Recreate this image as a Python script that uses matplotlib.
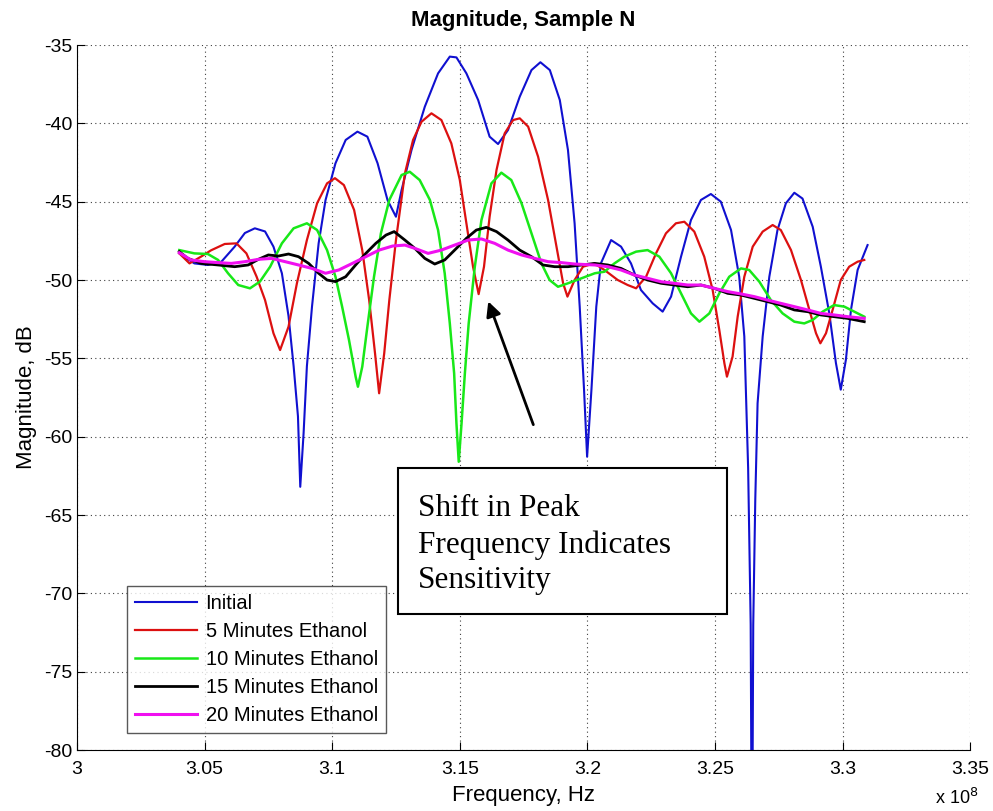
import matplotlib
matplotlib.use("Agg")
import matplotlib.pyplot as plt
import matplotlib.patches as patches
import numpy as np

plt.rcParams['font.family'] = ['Liberation Sans Narrow', 'Liberation Sans', 'DejaVu Sans']
plt.rcParams['axes.unicode_minus'] = False

# frequency in units of 1e8 Hz, magnitude in dB
blue_f = [3.0401, 3.046, 3.0513, 3.0566, 3.0618, 3.0658, 3.0697, 3.0737, 3.077, 3.0803,
          3.0829, 3.0849, 3.0866, 3.0875, 3.0888, 3.0901, 3.0921, 3.0947, 3.0974, 3.1013,
          3.1053, 3.1099, 3.1138, 3.1178, 3.1217, 3.125, 3.1272, 3.1311, 3.1363, 3.1415,
          3.1461, 3.1487, 3.1526, 3.1572, 3.1617, 3.165, 3.1689, 3.1735, 3.1781, 3.1816,
          3.1853, 3.1892, 3.1924, 3.195, 3.197, 3.1987, 3.1999, 3.2016, 3.2035, 3.2053,
          3.2093, 3.2132, 3.2171, 3.221, 3.2256, 3.2295, 3.2328, 3.2367, 3.2406, 3.2445,
          3.2484, 3.2523, 3.2563, 3.2595, 3.2615, 3.263, 3.264, 3.2645, 3.265, 3.2658,
          3.2667, 3.2687, 3.2713, 3.2745, 3.2778, 3.2811, 3.2843, 3.2883, 3.2915, 3.2948,
          3.2974, 3.2993, 3.3013, 3.3033, 3.3059, 3.3098]
blue_db = [-48.3, -48.94, -49.04, -48.83, -47.87, -47.0, -46.7, -46.9, -47.87, -49.57,
           -52.3, -55.5, -58.7, -63.2, -59.8, -55.5, -51.7, -47.66, -44.9, -42.55,
           -41.06, -40.53, -40.85, -42.55, -44.9, -45.96, -44.26, -41.7, -38.94, -36.81,
           -35.74, -35.79, -36.81, -38.51, -40.85, -41.32, -40.43, -38.3, -36.6, -36.1,
           -36.6, -38.51, -41.7, -46.38, -51.7, -57.0, -61.28, -57.0, -51.7, -48.94,
           -47.45, -47.87, -48.94, -50.64, -51.49, -52.02, -51.06, -48.51, -46.17, -44.89,
           -44.51, -45.0, -46.81, -49.79, -53.6, -62.0, -72.0, -90.0, -72.0, -64.0,
           -57.87, -53.6, -49.79, -46.81, -45.1, -44.43, -44.8, -46.6, -49.15, -52.13,
           -55.3, -57.0, -55.1, -51.9, -49.36, -47.77]

red_f = [3.0401, 3.0441, 3.0487, 3.0526, 3.0579, 3.0625, 3.0664, 3.0704, 3.0737, 3.077,
         3.0796, 3.0829, 3.0862, 3.0901, 3.0941, 3.098, 3.1011, 3.1046, 3.1086, 3.1118,
         3.1145, 3.1168, 3.1184, 3.1204, 3.1224, 3.125, 3.1285, 3.1317, 3.135, 3.1389,
         3.1428, 3.1467, 3.15, 3.1526, 3.1552, 3.1574, 3.1595, 3.1617, 3.1644, 3.1676,
         3.1709, 3.1735, 3.1768, 3.1807, 3.1846, 3.1879, 3.1905, 3.1922, 3.195, 3.1983,
         3.2027, 3.2067, 3.2119, 3.2158, 3.2191, 3.223, 3.2269, 3.2308, 3.2347, 3.238,
         3.2419, 3.2458, 3.2491, 3.2517, 3.2537, 3.2547, 3.2569, 3.2589, 3.2615, 3.2648,
         3.2687, 3.2726, 3.2758, 3.2798, 3.2837, 3.287, 3.2896, 3.2913, 3.2935, 3.2961,
         3.2993, 3.3026, 3.3059, 3.3085]
red_db = [-48.3, -48.94, -48.5, -48.1, -47.7, -47.66, -48.3, -49.79, -51.28, -53.4,
          -54.47, -52.98, -50.2, -47.45, -45.1, -43.83, -43.5, -43.94, -45.53, -48.1,
          -51.28, -54.68, -57.23, -54.68, -51.28, -47.45, -43.2, -41.06, -39.9, -39.36,
          -39.79, -41.28, -43.6, -46.38, -49.15, -50.9, -49.15, -45.96, -42.98, -40.64,
          -39.79, -39.68, -40.21, -42.13, -44.89, -47.87, -50.21, -51.06, -50.0, -49.15,
          -48.94, -49.36, -50.0, -50.32, -50.53, -49.79, -48.3, -47.02, -46.38, -46.28,
          -46.91, -48.51, -50.64, -53.19, -55.32, -56.17, -54.89, -52.34, -49.79, -47.87,
          -46.91, -46.49, -46.81, -48.09, -50.0, -51.91, -53.4, -54.04, -53.4, -51.91,
          -50.0, -49.15, -48.83, -48.72]

green_f = [3.0401, 3.046, 3.0513, 3.0553, 3.0592, 3.0632, 3.0678, 3.0717, 3.0757, 3.0803,
           3.0849, 3.0901, 3.0941, 3.098, 3.1013, 3.1039, 3.1066, 3.1092, 3.1101, 3.1118,
           3.1138, 3.1164, 3.1191, 3.1224, 3.1272, 3.1304, 3.1343, 3.1383, 3.1415, 3.1441,
           3.1461, 3.1478, 3.1487, 3.1496, 3.1507, 3.152, 3.1535, 3.1559, 3.1585, 3.1624,
           3.1663, 3.1702, 3.1742, 3.1781, 3.182, 3.1852, 3.1885, 3.1924, 3.1977, 3.2029,
           3.2067, 3.2106, 3.2145, 3.2191, 3.2236, 3.2282, 3.2328, 3.2367, 3.2406, 3.2439,
           3.2478, 3.2517, 3.2556, 3.2602, 3.2634, 3.2674, 3.2719, 3.2765, 3.2811, 3.285,
           3.2883, 3.2922, 3.2967, 3.3007, 3.3046, 3.3085]
green_db = [-48.09, -48.3, -48.34, -48.72, -49.57, -50.32, -50.53, -50.1, -49.15, -47.66,
            -46.7, -46.38, -46.81, -48.09, -49.79, -51.7, -53.83, -56.17, -56.81, -55.53,
            -52.98, -49.79, -47.02, -44.89, -43.3, -43.09, -43.62, -44.89, -46.81, -49.57,
            -52.77, -55.96, -59.15, -61.6, -59.15, -55.96, -52.77, -49.15, -46.17, -43.83,
            -43.15, -43.62, -45.1, -47.02, -48.94, -50.0, -50.43, -50.21, -49.89, -49.57,
            -49.47, -48.94, -48.51, -48.19, -48.09, -48.51, -49.57, -50.85, -52.13, -52.66,
            -52.13, -50.85, -49.79, -49.26, -49.36, -50.11, -51.28, -52.13, -52.66, -52.77,
            -52.55, -52.02, -51.6, -51.7, -52.02, -52.34]

black_f = [3.0401, 3.0434, 3.0487, 3.0553, 3.0618, 3.0671, 3.0711, 3.075, 3.0789, 3.0829,
           3.0868, 3.0908, 3.0947, 3.098, 3.1013, 3.1053, 3.1092, 3.1132, 3.1171, 3.1211,
           3.1243, 3.1285, 3.1324, 3.1363, 3.1402, 3.1441, 3.148, 3.1526, 3.1565, 3.1604,
           3.1644, 3.1689, 3.1735, 3.1781, 3.1826, 3.1872, 3.1924, 3.1977, 3.2029, 3.208,
           3.2132, 3.2184, 3.2236, 3.2289, 3.2341, 3.2393, 3.2445, 3.2497, 3.255, 3.2602,
           3.2654, 3.2706, 3.2758, 3.2811, 3.2863, 3.2915, 3.2967, 3.302, 3.3085]
black_db = [-48.19, -48.62, -48.94, -49.04, -49.15, -49.04, -48.68, -48.4, -48.47, -48.34,
            -48.51, -48.94, -49.57, -50.0, -50.1, -49.79, -49.04, -48.3, -47.66, -47.13,
            -46.91, -47.45, -47.98, -48.62, -48.98, -48.72, -48.09, -47.34, -46.81, -46.64,
            -46.91, -47.45, -48.09, -48.51, -49.04, -49.15, -49.15, -49.04, -48.94, -49.04,
            -49.26, -49.68, -50.0, -50.21, -50.32, -50.43, -50.32, -50.53, -50.85, -50.96,
            -51.17, -51.38, -51.6, -51.91, -52.02, -52.23, -52.34, -52.45, -52.66]

mag_f = [3.0401, 3.0447, 3.05, 3.0553, 3.0605, 3.0658, 3.0711, 3.0763, 3.0816, 3.0868,
         3.0921, 3.0974, 3.1026, 3.1079, 3.1132, 3.1184, 3.1237, 3.1285, 3.1324, 3.1376,
         3.1428, 3.148, 3.1533, 3.1585, 3.1637, 3.1689, 3.1742, 3.1794, 3.1846, 3.1898,
         3.195, 3.2029, 3.208, 3.2132, 3.2184, 3.2236, 3.2289, 3.2341, 3.2393, 3.2445,
         3.2497, 3.255, 3.2602, 3.2654, 3.2706, 3.2758, 3.2811, 3.2863, 3.2915, 3.2967,
         3.302, 3.3085]
mag_db = [-48.26, -48.72, -48.83, -48.89, -48.94, -48.83, -48.68, -48.62, -48.83, -49.04,
          -49.26, -49.57, -49.36, -48.94, -48.51, -48.09, -47.83, -47.77, -47.98, -48.3,
          -48.09, -47.77, -47.45, -47.38, -47.66, -48.09, -48.4, -48.62, -48.83, -48.89,
          -48.98, -49.04, -49.15, -49.36, -49.68, -49.89, -50.11, -50.21, -50.32, -50.32,
          -50.53, -50.74, -50.89, -51.06, -51.28, -51.49, -51.7, -51.91, -52.13, -52.23,
          -52.34, -52.45]

labels = ["Initial", "5 Minutes Ethanol", "10 Minutes Ethanol",
          "15 Minutes Ethanol", "20 Minutes Ethanol"]
colors = ["#1010d0", "#dc1010", "#18e818", "#000000", "#f010f0"]

xticks = [3, 3.05, 3.1, 3.15, 3.2, 3.25, 3.3, 3.35]
yticks = [-80, -75, -70, -65, -60, -55, -50, -45, -40, -35]

fig = plt.figure(figsize=(9.93, 8.11), dpi=100)
ax = fig.add_axes([0.0775, 0.0752, 0.8995, 0.8693])

series = [(blue_f, blue_db), (red_f, red_db), (green_f, green_db),
          (black_f, black_db), (mag_f, mag_db)]
widths = [1.5, 1.6, 1.8, 2.0, 2.2]
for (f, db), lab, c, w in zip(series, labels, colors, widths):
    ax.plot(np.array(f), np.array(db), color=c, lw=w, label=lab)

ax.set_xlim(3, 3.35)
ax.set_ylim(-80, -35)
ax.set_xticks(xticks)
ax.set_xticklabels(["%g" % t for t in xticks])
ax.set_yticks(yticks)
ax.grid(True, linestyle=(0, (1, 3)), color="#404040", lw=0.8)
for s in ["top", "right"]:
    ax.spines[s].set_visible(False)
ax.tick_params(direction="in", length=6, labelsize=14)
ax.tick_params(axis="x", pad=8)

ax.set_title("Magnitude, Sample N", fontsize=16, fontweight="bold", pad=14)
ax.set_xlabel("Frequency, Hz", fontsize=16, labelpad=5)
ax.set_ylabel("Magnitude, dB", fontsize=16, labelpad=5)
ax.text(0.985, -0.068, r"x 10$^8$", transform=ax.transAxes, fontsize=13,
        ha="center", va="center")

leg = ax.legend(loc="lower left", bbox_to_anchor=(0.056, 0.024), borderaxespad=0,
                fontsize=14.5, fancybox=False, edgecolor="#303030",
                handlelength=3.1, handletextpad=0.4, labelspacing=0.45, borderpad=0.4)
leg.get_frame().set_linewidth(1.0)

# annotation box
box = patches.Rectangle((0.3595, 0.193), 0.3685, 0.207, transform=ax.transAxes,
                        facecolor="white", edgecolor="black", lw=1.5, zorder=5)
ax.add_patch(box)
ax.text(0.382, 0.291, "Shift in Peak\nFrequency Indicates\nSensitivity",
        transform=ax.transAxes, family=["Liberation Serif", "DejaVu Serif"],
        fontsize=22.5, ha="left", va="center", linespacing=1.3, zorder=6)
ax.annotate("", xy=(3.1608, -51.2), xytext=(3.1792, -59.4),
            arrowprops=dict(arrowstyle="-|>", color="black", lw=2, mutation_scale=22))

fig.savefig("out.png", dpi=100)
